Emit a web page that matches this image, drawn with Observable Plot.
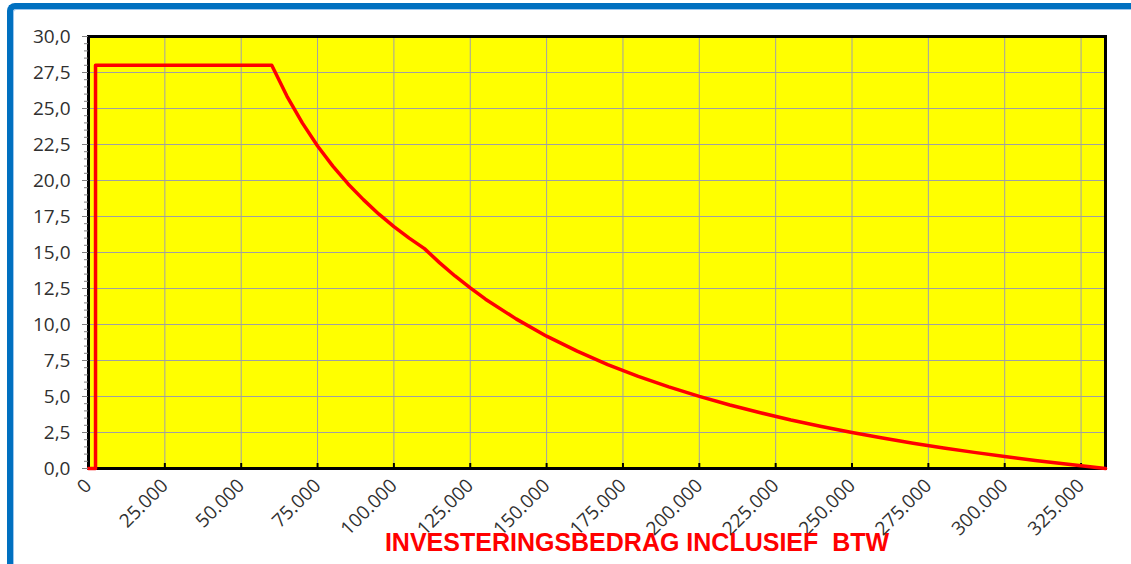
<!DOCTYPE html>
<html><head><meta charset="utf-8">
<script src="https://cdn.jsdelivr.net/npm/d3@7"></script>
<script src="https://cdn.jsdelivr.net/npm/@observablehq/plot@0.6"></script>
<style>
html,body{margin:0;padding:0;background:#fff;overflow:hidden;}
#wrap{position:relative;width:1131px;height:564px;}
#border{position:absolute;left:7px;top:3px;width:1300px;height:700px;border-top:6px solid #0070C0;border-left:6px solid #0070C0;border-top-left-radius:8px;box-shadow: inset 1px 1px 0 #9cc6ee;pointer-events:none;}
svg{position:absolute;left:0;top:0;}
</style></head><body><div id="wrap"><div id="border"></div></div>
<script>
// Investment amount (euro, incl. BTW) and deduction percentage
const investment = [0, 2300, 2300, 60000, 65000, 70000, 75000, 80000, 85000, 90000, 95000, 100000, 105000, 110000,
  115000, 120000, 125000, 130000, 140000, 150000, 160000, 170000, 180000, 190000, 200000,
  210000, 220000, 230000, 240000, 250000, 260000, 270000, 280000, 290000, 300000, 310000, 320000, 333000];
const percentage = [0, 0, 28.0, 28.0, 25.85, 24.0, 22.4, 21.0, 19.76, 18.67, 17.68, 16.8, 16.0, 15.27,
  14.28, 13.37, 12.54, 11.76, 10.39, 9.19, 8.15, 7.22, 6.40, 5.67, 5.01,
  4.41, 3.87, 3.37, 2.92, 2.50, 2.12, 1.76, 1.43, 1.12, 0.83, 0.56, 0.31, 0];

const xTickValues = [0, 25000, 50000, 75000, 100000, 125000, 150000, 175000, 200000, 225000, 250000, 275000, 300000, 325000];
const yTickValues = [0, 2.5, 5, 7.5, 10, 12.5, 15, 17.5, 20, 22.5, 25, 27.5, 30];
const yMinorTickValues = d3.range(0, 61).map(i => i * 0.5);
const xTitle = "INVESTERINGSBEDRAG INCLUSIEF\u00a0 BTW";

const data = investment.map((x, i) => ({x, y: percentage[i]}));
const fmtX = d => d3.format(",")(d).replace(/,/g, ".");
const fmtY = d => d.toFixed(1).replace(".", ",");

const chart = Plot.plot({
  width: 1131,
  height: 564,
  marginLeft: 88,
  marginTop: 36,
  marginRight: 26,
  marginBottom: 96,
  style: {fontFamily: "'Open Sans', sans-serif", fontSize: "19px", color: "#404040", background: "transparent", overflow: "visible"},
  x: {domain: [0, 333000]},
  y: {domain: [0, 30]},
  marks: [
    Plot.frame({fill: "#FFFF00"}),
    Plot.gridX(xTickValues, {stroke: "#a0a0a8", strokeOpacity: 1, strokeWidth: 1}),
    Plot.gridY(yTickValues, {stroke: "#a0a0a0", strokeOpacity: 1, strokeWidth: 1}),
    Plot.frame({stroke: "black", strokeWidth: 3}),
    Plot.tickX(xTickValues, {x: d => d, stroke: "black", strokeWidth: 2, insetTop: 427}),
    Plot.line(data, {x: "x", y: "y", stroke: "#FF0000", strokeWidth: 3.5, strokeLinejoin: "round"}),
    Plot.axisY(yMinorTickValues, {tickSize: 4, text: null, stroke: "#808080", label: null}),
    Plot.axisY(yTickValues, {tickSize: 6, tickPadding: 12, stroke: "#808080", fill: "#303030", fontSize: 19, tickFormat: fmtY, label: null}),
    Plot.axisX(xTickValues, {tickSize: 0, tickRotate: -45, tickPadding: 14, fill: "#303030", fontSize: 19, tickFormat: fmtX, label: null}),
    Plot.text([xTitle], {frameAnchor: "bottom", text: d => d, dy: 82, dx: 40, fill: "#FF0000", fontWeight: "bold", fontSize: 25, fontFamily: "'Liberation Sans', Arial, sans-serif"})
  ]
});
document.getElementById("wrap").appendChild(chart);
</script>
</body></html>
